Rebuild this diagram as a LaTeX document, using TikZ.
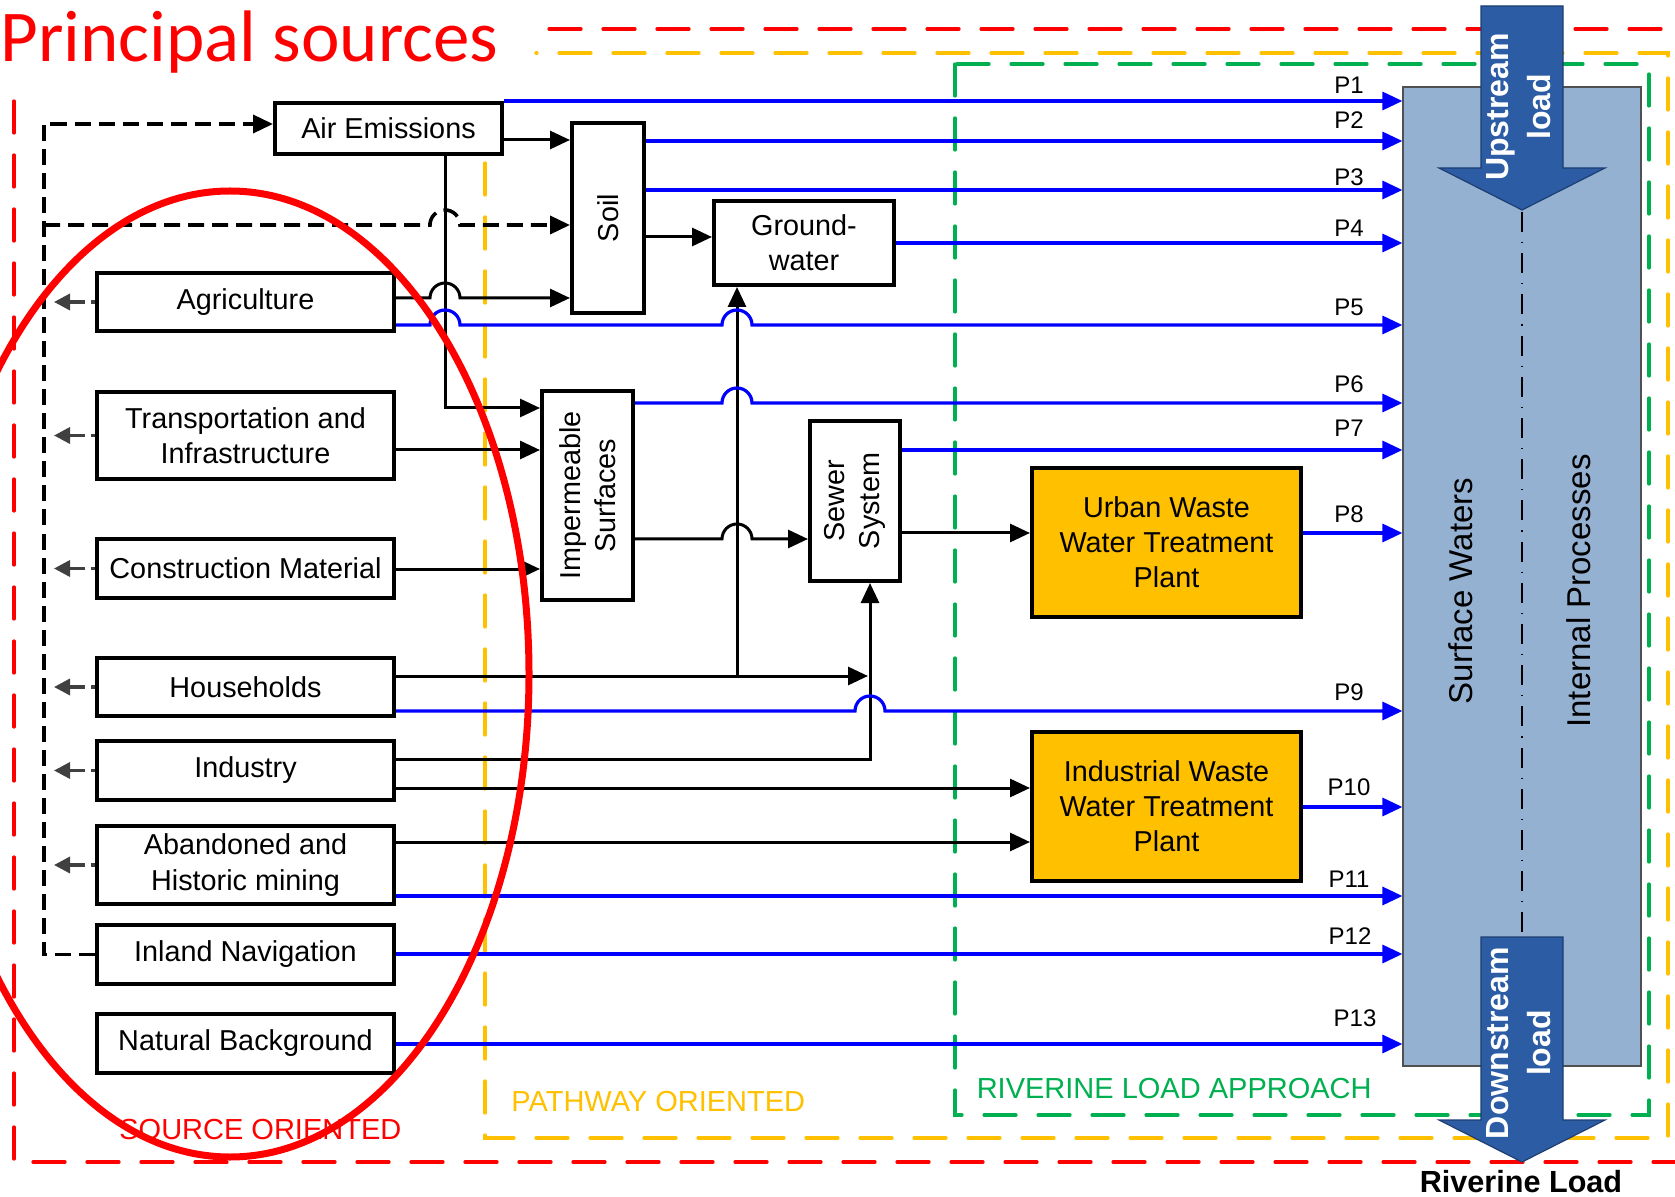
\documentclass[tikz,border=0pt]{standalone}
\usepackage{fontspec}
\setmainfont{Liberation Sans}
\newfontfamily\carlito{Carlito}
\usetikzlibrary{arrows.meta}
\definecolor{myred}{RGB}{255,0,0}
\definecolor{myyellow}{RGB}{255,192,0}
\definecolor{mygreen}{RGB}{0,176,80}
\definecolor{swfill}{RGB}{149,177,210}
\definecolor{swborder}{RGB}{80,80,80}
\definecolor{arrowblue}{RGB}{43,92,164}
\definecolor{arrowdark}{RGB}{30,62,115}
\definecolor{pblue}{RGB}{0,0,255}
\definecolor{garrow}{RGB}{64,64,64}
\definecolor{wwtp}{RGB}{255,192,0}
\begin{document}
\begin{tikzpicture}[x=0.5pt,y=-0.5pt,
  box/.style={draw, line width=2pt, fill=white, inner sep=0pt, align=center,
    font=\fontsize{14.4}{17.6}\selectfont},
  conn/.style={line width=1.5pt, -{Triangle[length=10pt,width=9pt]}},
  bl/.style={draw=pblue, line width=1.6pt, -{Triangle[length=10pt,width=9pt]}},
  fb/.style={line width=1.8pt, dash pattern=on 8pt off 4pt, -{Triangle[length=10pt,width=9pt]}},
  garr/.style={draw=garrow, line width=1.7pt, dash pattern=on 2pt off 3pt on 40pt,
    -{Triangle[length=8pt,width=8pt]}},
  region/.style={line width=1.6pt, line cap=round, dash pattern=on 16pt off 11pt},
  plabel/.style={font=\fontsize{12}{14}\selectfont, inner sep=0pt},
  rlabel/.style={font=\fontsize{14.5}{17}\selectfont, inner sep=0pt}]
\useasboundingbox (0,0) rectangle (1675,1197);

% ---------- region outlines ----------
\draw[region, myred] (549,29) -- (1690,29);
\draw[region, myred] (14,101) |- (1690,1162);
\draw[region, myyellow] (485,163) |- (1668,1138) |- (536,53);
\draw[region, mygreen] (955,64) rectangle (1649,1115);

% ---------- surface waters ----------
\node[draw=swborder, line width=0.6pt, fill=swfill, minimum width=119pt,
  minimum height=489.5pt, inner sep=0pt] (sw) at (1522,576.5) {};
\coordinate (dtop) at (1522,212);
\coordinate (dbot) at (1522,937);
\draw[line width=0.8pt, dash pattern=on 10pt off 5pt on 0.6pt off 5pt] (dtop) -- (dbot);
\node[rotate=90, font=\fontsize{16.5}{20}\selectfont] (swt) at (1461,591) {Surface Waters};
\node[rotate=90, font=\fontsize{16.5}{20}\selectfont] (ipt) at (1579,591) {Internal Processes};

% ---------- boxes ----------
\node[box, minimum width=113.5pt, minimum height=25.5pt] (air) at (388.5,128.5) {Air Emissions};
\node[box, minimum width=148.5pt, minimum height=29pt] (agri) at (245.5,302) {Agriculture};
\node[box, minimum width=148.5pt, minimum height=43.5pt] (trans) at (245.5,435.5) {Transportation and\\Infrastructure};
\node[box, minimum width=148.5pt, minimum height=29.5pt] (constr) at (245.5,568.5) {Construction Material};
\node[box, minimum width=148.5pt, minimum height=29pt] (house) at (245.5,687) {Households};
\node[box, minimum width=148.5pt, minimum height=29.5pt] (indus) at (245.5,770.5) {Industry};
\node[box, minimum width=148.5pt, minimum height=39pt] (aband) at (245.5,865) {Abandoned and\\Historic mining};
\node[box, minimum width=148.5pt, minimum height=29.5pt] (inland) at (245.5,954.5) {Inland Navigation};
\node[box, minimum width=148.5pt, minimum height=29.5pt] (natural) at (245.5,1043.5) {Natural Background};

\node[box, rotate=90, minimum width=95pt, minimum height=36pt] (soil) at (608,218) {Soil};
\node[box, minimum width=90pt, minimum height=42pt] (gw) at (804,243) {Ground-\\water};
\node[box, rotate=90, minimum width=104.5pt, minimum height=45.5pt] (imp) at (587.5,495.5) {Impermeable\\Surfaces};
\node[box, rotate=90, minimum width=80pt, minimum height=45pt] (sewer) at (855,501) {Sewer\\System};
\node[box, fill=wwtp, minimum width=134.5pt, minimum height=74.5pt] (uwwtp) at (1166.5,542.5) {Urban Waste\\Water Treatment\\Plant};
\node[box, fill=wwtp, minimum width=134.5pt, minimum height=74.5pt] (iwwtp) at (1166.5,806.5) {Industrial Waste\\Water Treatment\\Plant};

% ---------- feedback (dashed) ----------
\coordinate (fbl) at (44,954.5);
\coordinate (fbt) at (44,124);
\coordinate (fbm) at (44,225);
\draw[fb] (inland.west) -- (fbl) -- (fbt) -- (air.west |- fbt);
\draw[fb] (fbm) -- (430,225) arc[start angle=180,end angle=0,radius=7.5pt] -- (soil.north |- fbm);

\foreach \n in {agri,trans,constr,house,indus,aband}
  \draw[garr] (\n.west) -- (\n.west -| 54,0);

% ---------- black connectors ----------
\draw[conn] (air.east |- 0,140) -- (soil.north |- 0,140);
\draw[conn] (air.south -| 445,0) |- (imp.north |- 0,408);
\draw[conn] (agri.east |- 0,298) -- (430,298) arc[start angle=180,end angle=0,radius=7.5pt] -- (soil.north |- 0,298);
\draw[conn] (soil.south |- 0,237) -- (gw.west |- 0,237);
\draw[conn] (trans.east |- 0,450) -- (imp.north |- 0,450);
\draw[conn] (constr.east |- 0,569) -- (imp.north |- 0,569);
\draw[conn] (imp.south |- 0,539) -- (722,539) arc[start angle=180,end angle=0,radius=7.5pt] -- (sewer.north |- 0,539);
\coordinate (jH) at (868,676);
\coordinate (jG) at (737,676);
\coordinate (jI) at (870,759);
\draw[conn] (house.east |- jH) -- (jH);
\draw[conn] (jG) -- (gw.south -| jG);
\draw[conn] (indus.east |- jI) -| (sewer.west -| jI);
\draw[conn] (indus.east |- 0,788) -- (iwwtp.west |- 0,788);
\draw[conn] (aband.east |- 0,842) -- (iwwtp.west |- 0,842);
\draw[conn] (sewer.south |- 0,533) -- (uwwtp.west |- 0,533);

% ---------- blue pathways ----------
\draw[bl] (air.north east) -- (sw.west |- air.north east);
\draw[bl] (soil.south |- 0,141) -- (sw.west |- 0,141);
\draw[bl] (soil.south |- 0,190) -- (sw.west |- 0,190);
\draw[bl] (gw.east |- 0,243) -- (sw.west |- 0,243);
\draw[bl] (agri.east |- 0,325) -- (430,325) arc[start angle=180,end angle=0,radius=7.5pt]
  -- (722,325) arc[start angle=180,end angle=0,radius=7.5pt] -- (sw.west |- 0,325);
\draw[bl] (imp.south |- 0,403) -- (722,403) arc[start angle=180,end angle=0,radius=7.5pt] -- (sw.west |- 0,403);
\draw[bl] (sewer.south |- 0,450) -- (sw.west |- 0,450);
\draw[bl] (uwwtp.east |- 0,533) -- (sw.west |- 0,533);
\draw[bl] (house.east |- 0,711) -- (855,711) arc[start angle=180,end angle=0,radius=7.5pt] -- (sw.west |- 0,711);
\draw[bl] (iwwtp.east |- 0,807) -- (sw.west |- 0,807);
\draw[bl] (aband.east |- 0,896) -- (sw.west |- 0,896);
\draw[bl] (inland.east |- 0,954) -- (sw.west |- 0,954);
\draw[bl] (natural.east |- 0,1044) -- (sw.west |- 0,1044);

\node[plabel] (p1) at (1349,85) {P1};
\node[plabel] (p2) at (1349,120) {P2};
\node[plabel] (p3) at (1349,177) {P3};
\node[plabel] (p4) at (1349,228) {P4};
\node[plabel] (p5) at (1349,307) {P5};
\node[plabel] (p6) at (1349,384) {P6};
\node[plabel] (p7) at (1349,428) {P7};
\node[plabel] (p8) at (1349,514) {P8};
\node[plabel] (p9) at (1349,692) {P9};
\node[plabel] (p10) at (1349,787) {P10};
\node[plabel] (p11) at (1349,879) {P11};
\node[plabel] (p12) at (1350,936) {P12};
\node[plabel] (p13) at (1355,1018) {P13};

% ---------- upstream / downstream arrows ----------
\draw[fill=arrowblue, draw=arrowdark, line width=0.6pt]
  (1481,6) -- (1563,6) -- (1563,168) -- (1605,168) -- (1522,210) -- (1439,168) -- (1481,168) -- cycle;
\node[rotate=90, text=white, align=center, inner sep=0pt,
  font=\bfseries\fontsize{16}{21}\selectfont] (upt) at (1519,107) {Upstream\\load};
\draw[fill=arrowblue, draw=arrowdark, line width=0.6pt]
  (1481,937) -- (1563,937) -- (1563,1120) -- (1605,1120) -- (1522,1162) -- (1439,1120) -- (1481,1120) -- cycle;
\node[rotate=90, text=white, align=center, inner sep=0pt,
  font=\bfseries\fontsize{16}{21}\selectfont] (dnt) at (1519,1043) {Downstream\\load};

% ---------- region labels ----------
\node[rlabel, anchor=base west, text=myred] (srcl) at (119,1139) {SOURCE ORIENTED};
\node[rlabel, anchor=base west, text=myyellow] (pathl) at (511,1111) {PATHWAY ORIENTED};
\node[rlabel, anchor=base east, text=mygreen] (rivl) at (1372,1098) {RIVERINE LOAD APPROACH};
\node[anchor=base, inner sep=0pt, font=\bfseries\fontsize{15.3}{18}\selectfont] (rload) at (1521,1192) {Riverine Load};

% ---------- red ellipse and title ----------
\draw[myred, line width=3.5pt] (230,674) ellipse [x radius=149.5pt, y radius=241.5pt];
\node[anchor=base west, inner sep=0pt, text=myred, font=\carlito\fontsize{36.5}{40}\selectfont] (title) at (0,62) {Principal sources};
\end{tikzpicture}
\end{document}
